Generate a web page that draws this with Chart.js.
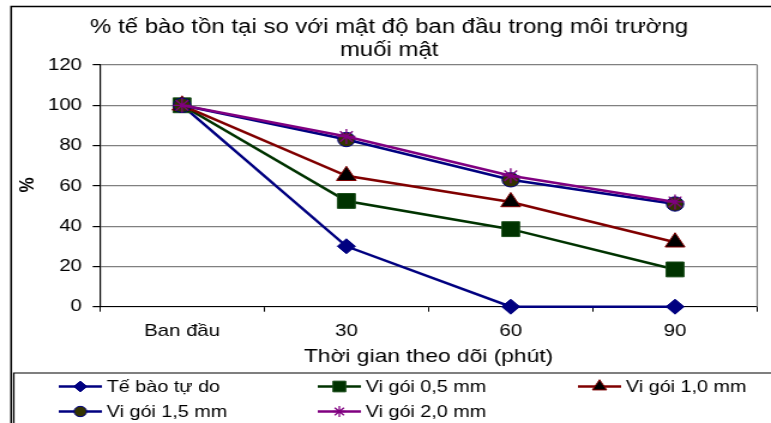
<!DOCTYPE html>
<html><head><meta charset="utf-8">
<style>html,body{margin:0;padding:0;background:#fff;overflow:hidden}canvas{display:block}</style>
<script src="https://cdn.jsdelivr.net/npm/chart.js@4/dist/chart.umd.min.js"></script>
</head><body>
<canvas id="c" width="643" height="423" style="width:771px;height:423px"></canvas>
<script>
// ---- data ----
const titleLines = ['% tế bào tồn tại so với mật độ ban đầu trong môi trường', 'muối mật'];
const xTitle = 'Thời gian theo dõi (phút)';
const yTitle = '%';
const categories = ['Ban đầu', '30', '60', '90'];
const seriesNames = ['Tế bào tự do', 'Vi gói 0,5 mm', 'Vi gói 1,0 mm', 'Vi gói 1,5 mm', 'Vi gói 2,0 mm'];
const freeCells = [100, 30, 0, 0];
const cap05 = [100, 52.5, 38.5, 18.5];
const cap10 = [100, 65, 52, 32];
const cap15 = [100, 83, 63, 51];
const cap20 = [100, 84.5, 65, 52];
const yTicks = [0, 20, 40, 60, 80, 100, 120];

// ---- styles ----
const FONT = "'Liberation Sans', Arial, sans-serif";
const styles = [
  {line: '#000080', fill: '#000080', border: '#000080', point: 'rectRot', r: 7.5},
  {line: '#003300', fill: '#003300', border: '#1a4d1a', point: 'rect', r: 10.5},
  {line: '#800000', fill: '#000000', border: '#800000', point: 'triangle', r: 9.5},
  {line: '#000080', fill: '#333300', border: '#000080', point: 'circle', r: 7.2},
  {line: '#800080', fill: '#800080', border: '#800080', point: 'star', r: 7.5}
];
const seriesData = [freeCells, cap05, cap10, cap15, cap20];

const datasets = seriesData.map((d, i) => ({
  label: seriesNames[i],
  data: d,
  borderColor: styles[i].line,
  borderWidth: 2.5,
  backgroundColor: styles[i].fill,
  pointStyle: styles[i].point,
  pointRadius: styles[i].r,
  pointHoverRadius: styles[i].r,
  pointBackgroundColor: styles[i].fill,
  pointBorderColor: styles[i].border,
  pointBorderWidth: styles[i].point === 'star' ? 1.3 : 1,
  fill: false,
  tension: 0,
  clip: false,
  order: 5 - i
}));

function drawMarker(ctx, st, x, y, r) {
  ctx.save();
  ctx.fillStyle = st.fill;
  ctx.strokeStyle = st.border;
  ctx.lineWidth = st.point === 'star' ? 1.3 : 1;
  if (Chart.helpers && Chart.helpers.drawPoint) {
    Chart.helpers.drawPoint(ctx, {pointStyle: st.point, radius: r, rotation: 0, borderWidth: ctx.lineWidth}, x, y);
  }
  ctx.restore();
}

const decor = {
  id: 'decor',
  beforeDraw(chart) {
    const ctx = chart.ctx;
    ctx.save();
    ctx.fillStyle = '#fff';
    ctx.fillRect(0, 0, chart.width, chart.height);
    ctx.restore();
  },
  beforeDatasetsDraw(chart) {
    const ctx = chart.ctx, a = chart.chartArea;
    ctx.save();
    ctx.strokeStyle = '#808080';
    ctx.lineWidth = 1.2;
    ctx.beginPath();
    ctx.moveTo(a.right, a.top);
    ctx.lineTo(a.right, a.bottom);
    ctx.stroke();
    ctx.restore();
  },
  afterDraw(chart) {
    const ctx = chart.ctx, a = chart.chartArea, W = chart.width, H = chart.height;
    ctx.save();
    // outer frame
    ctx.strokeStyle = '#000';
    ctx.lineWidth = 1.5;
    ctx.beginPath();
    ctx.moveTo(9.3, H); ctx.lineTo(9.3, 6.5); ctx.lineTo(W, 6.5);
    ctx.stroke();
    // legend box
    ctx.lineWidth = 1.2;
    ctx.beginPath();
    ctx.moveTo(11.5, H); ctx.lineTo(11.5, 373); ctx.lineTo(W, 373);
    ctx.stroke();
    // title
    ctx.fillStyle = '#000';
    ctx.textAlign = 'center';
    ctx.textBaseline = 'middle';
    ctx.font = '20px ' + FONT;
    ctx.fillText(titleLines[0], 324.5, 27);
    ctx.fillText(titleLines[1], 324.5, 50);
    // x title
    ctx.font = '19px ' + FONT;
    ctx.fillText(xTitle, (a.left + a.right) / 2, 357);
    // y title
    ctx.save();
    ctx.translate(23.5, 185);
    ctx.rotate(-Math.PI / 2);
    ctx.font = 'bold 17px ' + FONT;
    ctx.fillText(yTitle, 0, 0);
    ctx.restore();
    // legend
    const cols = [49, 265, 482];
    const rows = [386.5, 411.5];
    ctx.font = '16.5px ' + FONT;
    ctx.textAlign = 'left';
    chart.data.datasets.forEach((ds, i) => {
      const x = cols[i % 3], y = rows[Math.floor(i / 3)];
      const st = styles[i];
      ctx.strokeStyle = st.line;
      ctx.lineWidth = 2.5;
      ctx.beginPath();
      ctx.moveTo(x, y); ctx.lineTo(x + 36, y);
      ctx.stroke();
      drawMarker(ctx, st, x + 18, y, st.r * 0.72);
      ctx.fillStyle = '#000';
      ctx.fillText(ds.label, x + 40, y + 0.5);
    });
    ctx.restore();
  }
};

new Chart(document.getElementById('c'), {
  type: 'line',
  data: {labels: categories, datasets},
  plugins: [decor],
  options: {
    responsive: false,
    animation: false,
    events: [],
    layout: {padding: {left: 0, right: 8, top: 65, bottom: 0}},
    plugins: {legend: {display: false}, title: {display: false}, tooltip: {enabled: false}},
    scales: {
      x: {
        offset: true,
        grid: {display: true, offset: true, drawOnChartArea: false, drawTicks: true, tickLength: 5, color: '#000', lineWidth: 1},
        border: {color: '#000', width: 1},
        ticks: {color: '#000', font: {family: FONT, size: 17}, padding: 9, maxRotation: 0, autoSkip: false},
        afterFit(s) { s.height = 116.3; }
      },
      y: {
        min: 0, max: 120,
        afterBuildTicks(s) { s.ticks = yTicks.map(v => ({value: v})); },
        grid: {color: '#808080', lineWidth: 1.2, tickColor: '#000', tickLength: 6, drawTicks: true},
        border: {color: '#000', width: 1.2},
        ticks: {color: '#000', font: {family: FONT, size: 17}, padding: 9},
        afterFit(s) { s.width = 83.3; }
      }
    }
  }
});
</script>
</body></html>
